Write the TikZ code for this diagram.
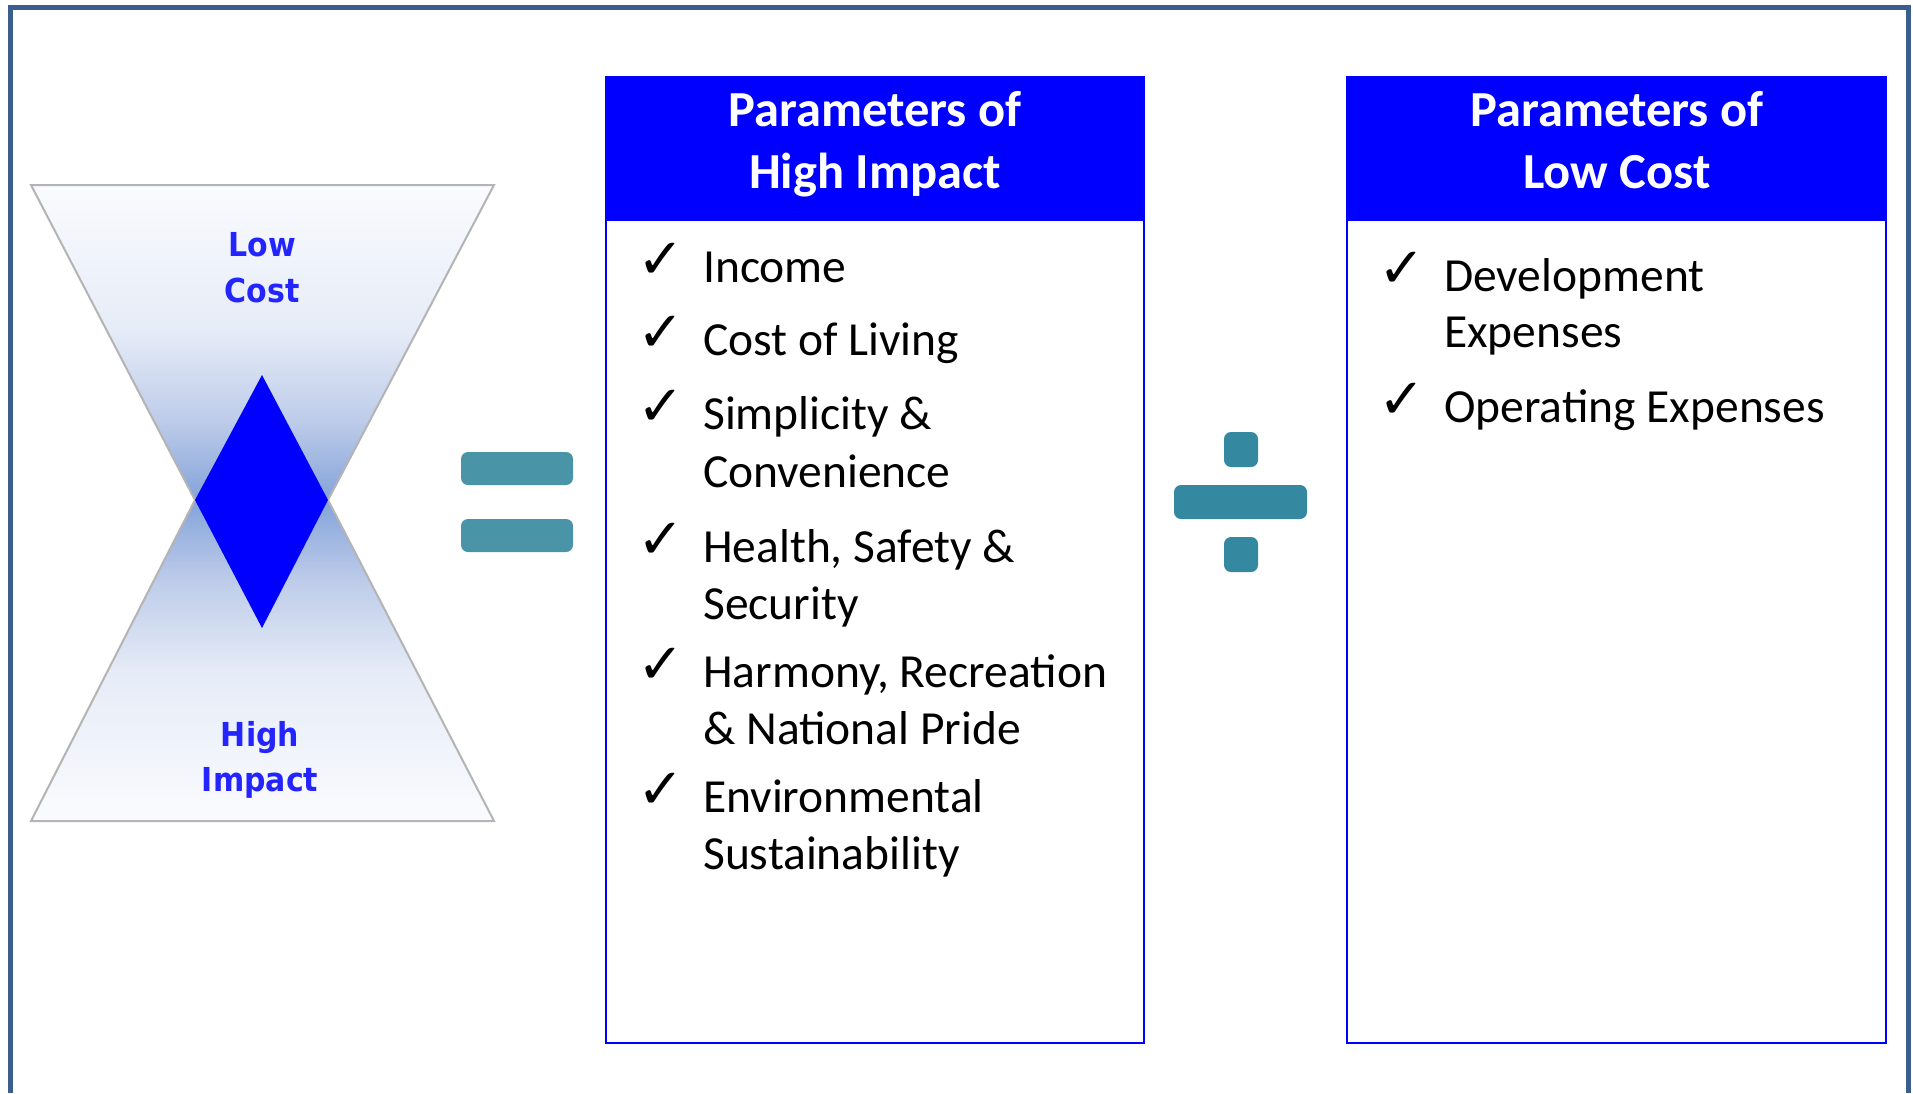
\documentclass[tikz,border=0pt]{standalone}
\usepackage{fontspec}
\setmainfont{Carlito}
\newfontfamily\hgfont{DejaVu Sans}
\newfontfamily\chkfont{DejaVu Sans}

\definecolor{framecol}{HTML}{3A5F8E}
\definecolor{boxblue}{HTML}{0000FF}
\definecolor{eqcol}{HTML}{4A94A8}
\definecolor{divcol}{HTML}{3489A0}
\definecolor{hgtext}{HTML}{2424FF}
\definecolor{hgedge}{HTML}{B4B4B4}
\definecolor{hgwhite}{HTML}{FAFBFE}
\definecolor{hglight}{HTML}{E6ECF7}
\definecolor{hgmid}{HTML}{BFCDEA}
\definecolor{hgdark}{HTML}{84A3D9}

\pgfdeclareverticalshading{hgneckbottom}{100bp}{color(0bp)=(hgdark); color(25bp)=(hgdark); color(38bp)=(hgmid); color(52bp)=(hglight); color(75bp)=(hgwhite); color(100bp)=(hgwhite)}
\pgfdeclareverticalshading{hgnecktop}{100bp}{color(0bp)=(hgwhite); color(25bp)=(hgwhite); color(48bp)=(hglight); color(62bp)=(hgmid); color(75bp)=(hgdark); color(100bp)=(hgdark)}

\tikzset{
  hgpart/.style={draw=hgedge, line width=2pt, line join=miter},
  hglabel/.style={anchor=base, inner sep=0pt, text=hgtext, yscale=1.1, transform shape, font=\hgfont\bfseries\fontsize{30}{45}\selectfont},
  boxframe/.style={draw=boxblue, line width=2.5pt, fill=white},
  boxhead/.style={draw=boxblue, line width=2.5pt, fill=boxblue},
  headtext/.style={anchor=base, inner sep=0pt, text=white, font=\bfseries\fontsize{50.5}{62}\selectfont},
  itemtext/.style={anchor=base west, inner sep=0pt, font=\fontsize{47.5}{57}\selectfont},
  chk/.style={anchor=base west, inner sep=0pt, font=\chkfont\fontsize{56}{56}\selectfont},
  eqbar/.style={fill=eqcol, rounded corners=7pt},
  divbar/.style={fill=divcol, rounded corners=7pt}
}

\begin{document}
\begin{tikzpicture}[x=1pt, y=-1pt]
\useasboundingbox (0,0) rectangle (1913,1093);
\fill[white] (0,0) rectangle (1913,1093);

% outer frame
\draw[framecol, line width=5pt] (10,1093) -- (10,7.5) -- (1908,7.5) -- (1908,1093);

% hourglass
\path[hgpart, shading=hgneckbottom] (31,185) -- (494,185) -- (328,500) -- (195,500) -- cycle;
\path[hgpart, shading=hgnecktop] (195,500) -- (328,500) -- (494,821) -- (31,821) -- cycle;
\fill[boxblue] (262,375) -- (328,500) -- (262,628) -- (195,500) -- cycle;
\node[hglabel] (lc1) at (262,256) {Low};
\node[hglabel] (lc2) at (262,302) {Cost};
\node[hglabel] (hi1) at (260,746) {High};
\node[hglabel] (hi2) at (260,791) {Impact};

% equals sign
\fill[eqbar] (461,452) rectangle (573,485);
\fill[eqbar] (461,519) rectangle (573,552);

% divide sign
\fill[divbar] (1174,485) rectangle (1307,519);
\fill[divbar] (1224,432) rectangle (1258,467);
\fill[divbar] (1224,537) rectangle (1258,572);

% box 1
\draw[boxframe] (606,220) rectangle (1144,1043);
\draw[boxhead] (606,77) rectangle (1144,220);
\node[headtext] (h1a) at (875,126) {Parameters of};
\node[headtext] (h1b) at (875,188) {High Impact};

\node[chk] (c1) at (637,278.5) {✓};
\node[itemtext] (t1) at (703,282) {Income};
\node[chk] (c2) at (637,351.5) {✓};
\node[itemtext] (t2) at (703,355) {Cost of Living};
\node[chk] (c3) at (637,425.5) {✓};
\node[itemtext] (t3a) at (703,429) {Simplicity \&};
\node[itemtext] (t3b) at (703,487) {Convenience};
\node[chk] (c4) at (637,558.5) {✓};
\node[itemtext] (t4a) at (703,562) {Health, Safety \&};
\node[itemtext] (t4b) at (703,619) {Security};
\node[chk] (c5) at (637,683.5) {✓};
\node[itemtext] (t5a) at (703,687) {Harmony, Recreation};
\node[itemtext] (t5b) at (703,744) {\& National Pride};
\node[chk] (c6) at (637,808.5) {✓};
\node[itemtext] (t6a) at (703,812) {Environmental};
\node[itemtext] (t6b) at (703,869) {Sustainability};

% box 2
\draw[boxframe] (1347,220) rectangle (1886,1043);
\draw[boxhead] (1347,77) rectangle (1886,220);
\node[headtext] (h2a) at (1617,126) {Parameters of};
\node[headtext] (h2b) at (1617,188) {Low Cost};

\node[chk] (d1) at (1378,287.5) {✓};
\node[itemtext] (u1a) at (1444,291) {Development};
\node[itemtext] (u1b) at (1444,347) {Expenses};
\node[chk] (d2) at (1378,418.5) {✓};
\node[itemtext] (u2) at (1444,422) {Operating Expenses};
\end{tikzpicture}
\end{document}
